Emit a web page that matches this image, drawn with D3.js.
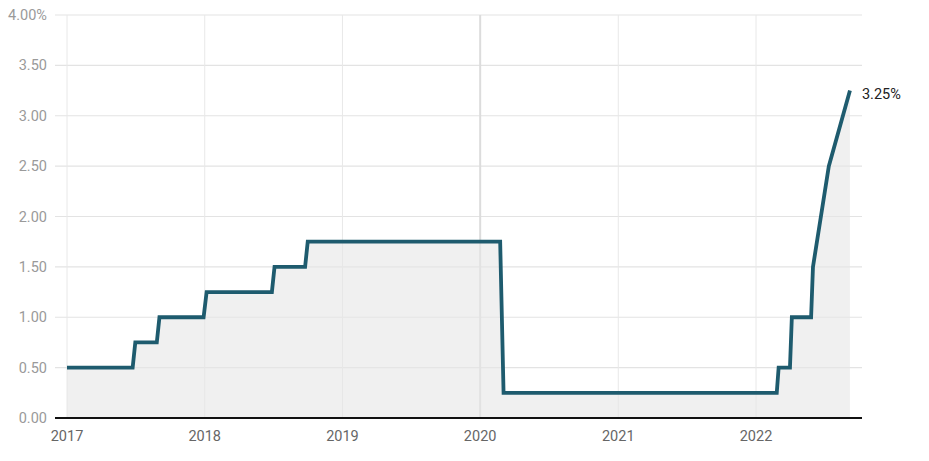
<!DOCTYPE html>
<html>
<head>
<meta charset="utf-8">
<script src="https://cdn.jsdelivr.net/npm/d3@7"></script>
<style>
    body { margin: 0; background: #fff; }
    svg { display: block; font-family: Roboto, sans-serif; }
</style>
</head>
<body>
<svg id="chart" width="929" height="461"></svg>
<script>
// rate points (date, percent)
const dates = [
    '2017-01-01', '2017-06-24', '2017-07-01', '2017-08-27', '2017-09-03',
    '2017-12-29', '2018-01-06', '2018-06-28', '2018-07-05', '2018-09-24',
    '2018-10-01', '2020-02-23', '2020-03-03', '2022-02-25', '2022-03-02',
    '2022-04-01', '2022-04-06', '2022-05-27', '2022-06-01', '2022-07-13',
    '2022-09-07'
];
const rates = [
    0.50, 0.50, 0.75, 0.75, 1.00,
    1.00, 1.25, 1.25, 1.50, 1.50,
    1.75, 1.75, 0.25, 0.25, 0.50,
    0.50, 1.00, 1.00, 1.50, 2.50,
    3.25
];
const yTicks = [0, 0.5, 1, 1.5, 2, 2.5, 3, 3.5, 4];
const xYears = [2017, 2018, 2019, 2020, 2021, 2022];

const parse = d3.timeParse('%Y-%m-%d');
const data = dates.map((d, i) => ({ date: parse(d), value: rates[i] }));

const svg = d3.select('#chart');
const left = 55, right = 862;

const x = d3.scaleTime()
    .domain([new Date(2017, 0, 1), new Date(2022, 0, 1)])
    .range([67, 756]);
const y = d3.scaleLinear()
    .domain([0, 4])
    .range([418, 15]);

// horizontal grid
svg.append('g')
    .selectAll('line')
    .data(yTicks.slice(1))
    .join('line')
    .attr('x1', left)
    .attr('x2', right)
    .attr('y1', d => y(d))
    .attr('y2', d => y(d))
    .attr('stroke', '#e3e3e3')
    .attr('stroke-width', 1.2);

// vertical grid
svg.append('g')
    .selectAll('line')
    .data(xYears)
    .join('line')
    .attr('x1', d => x(new Date(d, 0, 1)))
    .attr('x2', d => x(new Date(d, 0, 1)))
    .attr('y1', y(4))
    .attr('y2', y(0))
    .attr('stroke', d => d === 2020 ? '#dcdcdc' : '#e8e8e8')
    .attr('stroke-width', d => d === 2020 ? 2 : 1);

// area under line
svg.append('path')
    .datum(data)
    .attr('fill', '#e6e6e6')
    .attr('fill-opacity', 0.6)
    .attr('d', d3.area()
        .x(d => x(d.date))
        .y0(y(0))
        .y1(d => y(d.value)));

// baseline
svg.append('line')
    .attr('x1', left)
    .attr('x2', right)
    .attr('y1', y(0))
    .attr('y2', y(0))
    .attr('stroke', '#111')
    .attr('stroke-width', 2);

// line
svg.append('path')
    .datum(data)
    .attr('fill', 'none')
    .attr('stroke', '#1e5b6e')
    .attr('stroke-width', 3.8)
    .attr('stroke-linejoin', 'miter')
    .attr('d', d3.line()
        .x(d => x(d.date))
        .y(d => y(d.value)));

// y labels
svg.append('g')
    .selectAll('text')
    .data(yTicks)
    .join('text')
    .attr('x', 47)
    .attr('y', d => y(d) + 5)
    .attr('text-anchor', 'end')
    .attr('fill', '#9a9a9a')
    .attr('font-size', 14.5)
    .text(d => d === 4 ? d.toFixed(2) + '%' : d.toFixed(2));

// x labels
svg.append('g')
    .selectAll('text')
    .data(xYears)
    .join('text')
    .attr('x', d => x(new Date(d, 0, 1)))
    .attr('y', 441)
    .attr('text-anchor', 'middle')
    .attr('fill', '#666')
    .attr('font-size', 14.5)
    .text(d => d);

// end label
const last = data[data.length - 1];
svg.append('text')
    .attr('x', x(last.date) + 12)
    .attr('y', y(last.value) + 8)
    .attr('fill', '#222')
    .attr('font-size', 14.5)
    .text(last.value.toFixed(2) + '%');
</script>
</body>
</html>
